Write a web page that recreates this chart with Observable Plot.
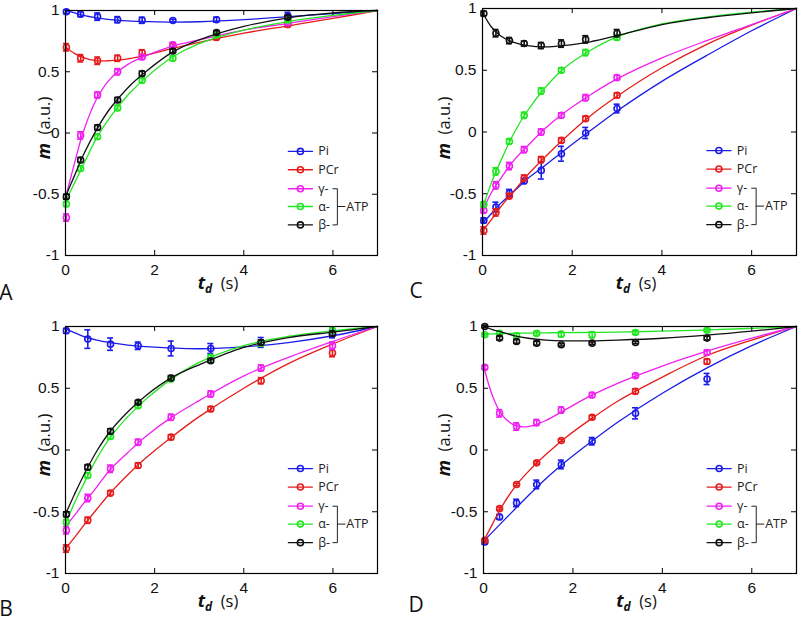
<!DOCTYPE html>
<html>
<head>
<meta charset="utf-8">
<script src="https://cdn.jsdelivr.net/npm/d3@7"></script>
<script src="https://cdn.jsdelivr.net/npm/@observablehq/plot@0.6"></script>
<style>
body { margin: 0; background: #fff; }
#wrap { position: relative; width: 800px; height: 621px; overflow: hidden; }
#wrap svg { position: absolute; }
</style>
</head>
<body>
<div id="wrap"></div>
<script>
const series = ["Pi", "PCr", "γ", "α", "β"];
const legendText = ["Pi", "PCr", "γ-", "α-", "β-"];
const colors = ["#1c1ce8", "#e61c1c", "#f020f0", "#22e622", "#111111"];
const xTicks = [0, 2, 4, 6];
const yTicks = [-1, -0.5, 0, 0.5, 1];
const legendY = [-0.15, -0.30, -0.455, -0.60, -0.75];
const tFit = [0, 0.2, 0.4, 0.7, 1, 1.4, 1.8, 2.4, 3, 4, 5, 6, 7];

// ---- Panel A ----
const tA = [0.02, 0.34, 0.72, 1.17, 1.72, 2.41, 3.39, 4.99];
const mA = {
  "Pi":  [0.99, 0.97, 0.95, 0.925, 0.92, 0.918, 0.925, 0.955],
  "PCr": [0.70, 0.61, 0.59, 0.61, 0.655, 0.71, 0.78, 0.885],
  "γ":   [-0.69, -0.02, 0.31, 0.50, 0.62, 0.72, 0.81, 0.90],
  "α":   [-0.58, -0.29, -0.03, 0.205, 0.43, 0.61, 0.80, 0.92],
  "β":   [-0.52, -0.22, 0.045, 0.27, 0.485, 0.67, 0.82, 0.945]
};
const eA = {
  "Pi":  [0.015, 0.02, 0.03, 0.025, 0.025, 0.01, 0.02, 0.03],
  "PCr": [0.03, 0.03, 0.03, 0.025, 0.025, 0.02, 0.02, 0.02],
  "γ":   [0.03, 0.03, 0.025, 0.025, 0.02, 0.02, 0.015, 0.02],
  "α":   [0.02, 0.02, 0.02, 0.02, 0.02, 0.02, 0.015, 0.015],
  "β":   [0.02, 0.02, 0.02, 0.02, 0.02, 0.015, 0.015, 0.015]
};
const fA = {
  "Pi":  [1.0, 0.98, 0.96, 0.94, 0.925, 0.915, 0.91, 0.905, 0.908, 0.925, 0.95, 0.975, 1.0],
  "PCr": [0.70, 0.65, 0.615, 0.59, 0.59, 0.605, 0.635, 0.69, 0.74, 0.815, 0.875, 0.935, 1.0],
  "γ":   [-0.53, -0.25, 0.01, 0.28, 0.44, 0.56, 0.63, 0.71, 0.76, 0.84, 0.895, 0.95, 1.0],
  "α":   [-0.56, -0.41, -0.26, -0.04, 0.13, 0.31, 0.45, 0.62, 0.73, 0.84, 0.91, 0.96, 1.0],
  "β":   [-0.52, -0.35, -0.18, 0.03, 0.20, 0.37, 0.50, 0.66, 0.76, 0.87, 0.94, 0.98, 1.0]
};

// ---- Panel B ----
const tB = [0.02, 0.5, 1.01, 1.63, 2.37, 3.26, 4.39, 5.99];
const mB = {
  "Pi":  [0.965, 0.898, 0.857, 0.844, 0.822, 0.822, 0.871, 0.938],
  "PCr": [-0.798, -0.569, -0.349, -0.125, 0.104, 0.332, 0.561, 0.785],
  "γ":   [-0.65, -0.389, -0.152, 0.063, 0.265, 0.454, 0.664, 0.844],
  "α":   [-0.583, -0.206, 0.109, 0.359, 0.575, 0.75, 0.863, 0.97],
  "β":   [-0.52, -0.139, 0.152, 0.386, 0.583, 0.723, 0.871, 0.943]
};
const eB = {
  "Pi":  [0.02, 0.075, 0.05, 0.03, 0.06, 0.04, 0.04, 0.03],
  "PCr": [0.03, 0.025, 0.02, 0.02, 0.02, 0.02, 0.025, 0.03],
  "γ":   [0.03, 0.03, 0.03, 0.025, 0.025, 0.025, 0.025, 0.03],
  "α":   [0.02, 0.02, 0.02, 0.02, 0.02, 0.02, 0.02, 0.02],
  "β":   [0.02, 0.02, 0.02, 0.015, 0.02, 0.015, 0.02, 0.02]
};
const fB = {
  "Pi":  [0.98, 0.95, 0.92, 0.89, 0.87, 0.85, 0.837, 0.825, 0.82, 0.835, 0.87, 0.925, 1.0],
  "PCr": [-0.80, -0.71, -0.615, -0.48, -0.35, -0.20, -0.065, 0.11, 0.27, 0.50, 0.70, 0.86, 1.0],
  "γ":   [-0.62, -0.53, -0.435, -0.30, -0.16, -0.02, 0.11, 0.27, 0.40, 0.60, 0.75, 0.88, 1.0],
  "α":   [-0.60, -0.43, -0.28, -0.07, 0.10, 0.27, 0.41, 0.58, 0.71, 0.845, 0.92, 0.965, 1.0],
  "β":   [-0.52, -0.36, -0.21, -0.01, 0.15, 0.31, 0.44, 0.59, 0.69, 0.83, 0.91, 0.955, 1.0]
};

// ---- Panel C ----
const tC = [0.03, 0.3, 0.6, 0.93, 1.31, 1.76, 2.3, 3.0];
const mC = {
  "Pi":  [-0.716, -0.608, -0.495, -0.397, -0.311, -0.176, -0.008, 0.19],
  "PCr": [-0.797, -0.651, -0.519, -0.373, -0.224, -0.068, 0.108, 0.297],
  "γ":   [-0.635, -0.432, -0.276, -0.143, 0.0, 0.135, 0.278, 0.44],
  "α":   [-0.586, -0.319, -0.076, 0.135, 0.332, 0.50, 0.643, 0.765],
  "β":   [0.96, 0.80, 0.74, 0.716, 0.70, 0.716, 0.75, 0.80]
};
const eC = {
  "Pi":  [0.02, 0.04, 0.03, 0.02, 0.07, 0.06, 0.045, 0.035],
  "PCr": [0.03, 0.03, 0.02, 0.025, 0.025, 0.02, 0.02, 0.02],
  "γ":   [0.02, 0.03, 0.03, 0.025, 0.025, 0.02, 0.025, 0.02],
  "α":   [0.02, 0.03, 0.02, 0.025, 0.025, 0.02, 0.025, 0.02],
  "β":   [0.02, 0.03, 0.025, 0.02, 0.025, 0.03, 0.03, 0.03]
};
const fC = {
  "Pi":  [-0.74, -0.66, -0.58, -0.48, -0.38, -0.27, -0.155, 0.01, 0.17, 0.41, 0.62, 0.82, 1.0],
  "PCr": [-0.80, -0.71, -0.61, -0.48, -0.35, -0.20, -0.06, 0.13, 0.29, 0.52, 0.71, 0.865, 1.0],
  "γ":   [-0.64, -0.49, -0.38, -0.23, -0.115, 0.03, 0.15, 0.30, 0.43, 0.60, 0.74, 0.87, 1.0],
  "α":   [-0.62, -0.41, -0.24, -0.01, 0.17, 0.36, 0.51, 0.66, 0.77, 0.875, 0.93, 0.97, 1.0],
  "β":   [0.97, 0.85, 0.78, 0.725, 0.70, 0.69, 0.70, 0.73, 0.78, 0.87, 0.925, 0.965, 1.0]
};

// ---- Panel D ----
const tD = [0.03, 0.36, 0.74, 1.19, 1.74, 2.43, 3.4, 5.0];
const mD = {
  "Pi":  [-0.744, -0.542, -0.429, -0.279, -0.117, 0.071, 0.297, 0.575],
  "PCr": [-0.731, -0.475, -0.279, -0.104, 0.077, 0.265, 0.475, 0.717],
  "γ":   [0.669, 0.297, 0.19, 0.222, 0.324, 0.445, 0.602, 0.79],
  "α":   [0.933, 0.944, 0.925, 0.944, 0.938, 0.933, 0.952, 0.97],
  "β":   [1.0, 0.906, 0.879, 0.865, 0.852, 0.865, 0.871, 0.906]
};
const eD = {
  "Pi":  [0.02, 0.02, 0.03, 0.035, 0.035, 0.03, 0.045, 0.045],
  "PCr": [0.01, 0.01, 0.01, 0.01, 0.01, 0.015, 0.02, 0.02],
  "γ":   [0.015, 0.03, 0.03, 0.025, 0.025, 0.02, 0.015, 0.02],
  "α":   [0.01, 0.02, 0.02, 0.015, 0.02, 0.025, 0.015, 0.01],
  "β":   [0.01, 0.015, 0.015, 0.015, 0.01, 0.01, 0.01, 0.015]
};
const fD = {
  "Pi":  [-0.74, -0.665, -0.59, -0.48, -0.37, -0.23, -0.105, 0.065, 0.225, 0.46, 0.665, 0.845, 1.0],
  "PCr": [-0.74, -0.60, -0.465, -0.30, -0.175, -0.035, 0.09, 0.25, 0.395, 0.59, 0.765, 0.89, 1.0],
  "γ":   [0.68, 0.44, 0.29, 0.20, 0.19, 0.24, 0.32, 0.44, 0.54, 0.68, 0.80, 0.905, 1.0],
  "α":   [0.935, 0.94, 0.942, 0.945, 0.947, 0.949, 0.95, 0.952, 0.955, 0.962, 0.972, 0.985, 1.0],
  "β":   [1.0, 0.975, 0.955, 0.925, 0.905, 0.89, 0.884, 0.884, 0.89, 0.905, 0.93, 0.962, 1.0]
};

const panels = [
  {letter: "A", t: tA, m: mA, e: eA, f: fA, left: 0,   top: 0,   W: 400, H: 310, ml: 65, mr: 23, mt: 10, mb: 55, ylab: [50, 128], xlabY: 289, letterXY: [6, 300]},
  {letter: "C", t: tC, m: mC, e: eC, f: fC, left: 400, top: 0,   W: 400, H: 310, ml: 82, mr: 4,  mt: 8,  mb: 55, ylab: [50, 128], xlabY: 289, letterXY: [16, 298]},
  {letter: "B", t: tB, m: mB, e: eB, f: fB, left: 0,   top: 310, W: 400, H: 311, ml: 65, mr: 23, mt: 16, mb: 48, ylab: [50, 135], xlabY: 297, letterXY: [6, 306]},
  {letter: "D", t: tD, m: mD, e: eD, f: fD, left: 400, top: 310, W: 400, H: 311, ml: 83, mr: 4,  mt: 16, mb: 48, ylab: [50, 135], xlabY: 297, letterXY: [16, 302]}
];

const wrap = document.getElementById("wrap");

for (const p of panels) {
  const pw = p.W - p.ml - p.mr, ph = p.H - p.mt - p.mb;
  const marks = [];
  series.forEach((s, i) => {
    const fitData = tFit.map((tt, j) => ({t: tt, m: p.f[s][j]}));
    const pts = p.t.map((tt, j) => ({t: tt, m: p.m[s][j], e: p.e[s][j]}));
    const c = colors[i];
    marks.push(Plot.line(fitData, {x: "t", y: "m", stroke: c, strokeWidth: 1.3, curve: "catmull-rom"}));
    marks.push(Plot.ruleX(pts, {x: "t", y1: d => d.m - d.e, y2: d => d.m + d.e, stroke: c, strokeWidth: 1.6}));
    marks.push(Plot.ruleY(pts, {y: d => d.m + d.e, x1: "t", x2: "t", insetLeft: -3, insetRight: -3, stroke: c, strokeWidth: 1.6}));
    marks.push(Plot.ruleY(pts, {y: d => d.m - d.e, x1: "t", x2: "t", insetLeft: -3, insetRight: -3, stroke: c, strokeWidth: 1.6}));
    marks.push(Plot.dot(pts, {x: "t", y: "m", r: 3, stroke: c, strokeWidth: 1.6, fill: "none"}));
    // legend entry
    const ly = legendY[i];
    marks.push(Plot.line([{x: 5.0, y: ly}, {x: 5.54, y: ly}], {x: "x", y: "y", stroke: c, strokeWidth: 1.3}));
    marks.push(Plot.dot([{x: 5.27, y: ly}], {x: "x", y: "y", r: 3, stroke: c, strokeWidth: 1.6, fill: "none"}));
    marks.push(Plot.text([{x: 5.67, y: ly, s: legendText[i]}], {x: "x", y: "y", text: "s", textAnchor: "start", fontSize: 12.5, fill: "#222", fontFamily: "Open Sans"}));
  });
  // bracket for ATP
  marks.push(Plot.line([{x: 6.0, y: legendY[2]}, {x: 6.1, y: legendY[2]}, {x: 6.1, y: legendY[4]}, {x: 6.0, y: legendY[4]}], {x: "x", y: "y", stroke: "#222", strokeWidth: 1}));
  marks.push(Plot.line([{x: 6.1, y: legendY[3]}, {x: 6.27, y: legendY[3]}], {x: "x", y: "y", stroke: "#222", strokeWidth: 1}));
  marks.push(Plot.text([{x: 6.3, y: legendY[3], s: "ATP"}], {x: "x", y: "y", text: "s", textAnchor: "start", fontSize: 12.5, fill: "#222", fontFamily: "Open Sans"}));

  // inward ticks on all four sides
  marks.push(Plot.tickX(xTicks, {x: d => d, insetTop: ph - 5, stroke: "#000"}));
  marks.push(Plot.tickX(xTicks, {x: d => d, insetBottom: ph - 5, stroke: "#000"}));
  marks.push(Plot.tickY(yTicks, {y: d => d, insetRight: pw - 5, stroke: "#000"}));
  marks.push(Plot.tickY(yTicks, {y: d => d, insetLeft: pw - 5, stroke: "#000"}));
  marks.push(Plot.frame({stroke: "#000", strokeWidth: 1.2}));
  marks.push(Plot.axisX({ticks: xTicks, tickSize: 0, tickPadding: 8, label: null, fontSize: 15.5, tickFormat: d => String(d)}));
  marks.push(Plot.axisY({ticks: yTicks, tickSize: 0, tickPadding: 6, label: null, fontSize: 15.5, tickFormat: d => String(d)}));

  const svg = Plot.plot({
    width: p.W, height: p.H,
    marginLeft: p.ml, marginRight: p.mr, marginTop: p.mt, marginBottom: p.mb,
    x: {domain: [0, 7]},
    y: {domain: [-1, 1]},
    style: {fontFamily: "Liberation Sans, Arial, sans-serif", fontSize: "15px", color: "#111", background: "white", overflow: "visible"},
    marks
  });
  svg.style.left = p.left + "px";
  svg.style.top = p.top + "px";
  wrap.appendChild(svg);

  const g = d3.select(svg);
  // y label
  const yl = g.append("text")
    .attr("transform", `translate(${p.ylab[0]},${p.ylab[1]}) rotate(-90)`)
    .attr("text-anchor", "middle")
    .attr("font-family", "Open Sans, Liberation Sans, sans-serif")
    .attr("font-size", 16.5).attr("fill", "#111");
  yl.append("tspan").attr("font-weight", "bold").attr("font-style", "italic").attr("font-size", 18).text("m");
  yl.append("tspan").text("\u00a0 (a.u.)");
  // x label
  const cx = p.ml + pw / 2 - 3;
  const xl = g.append("text")
    .attr("x", cx).attr("y", p.xlabY)
    .attr("text-anchor", "middle")
    .attr("font-family", "Open Sans, Liberation Sans, sans-serif")
    .attr("font-size", 16.5).attr("fill", "#111");
  xl.append("tspan").attr("font-weight", "bold").attr("font-style", "italic").attr("font-size", 18).text("t");
  xl.append("tspan").attr("font-weight", "bold").attr("font-style", "italic").attr("font-size", 12).attr("dy", 4).text("d");
  xl.append("tspan").attr("dy", -4).text("\u00a0 (s)");
  // panel letter
  g.append("text")
    .attr("x", p.letterXY[0]).attr("y", p.letterXY[1])
    .attr("font-family", "Open Sans, Liberation Sans, sans-serif")
    .attr("font-size", 21).attr("fill", "#111")
    .text(p.letter);
}
</script>
</body>
</html>
